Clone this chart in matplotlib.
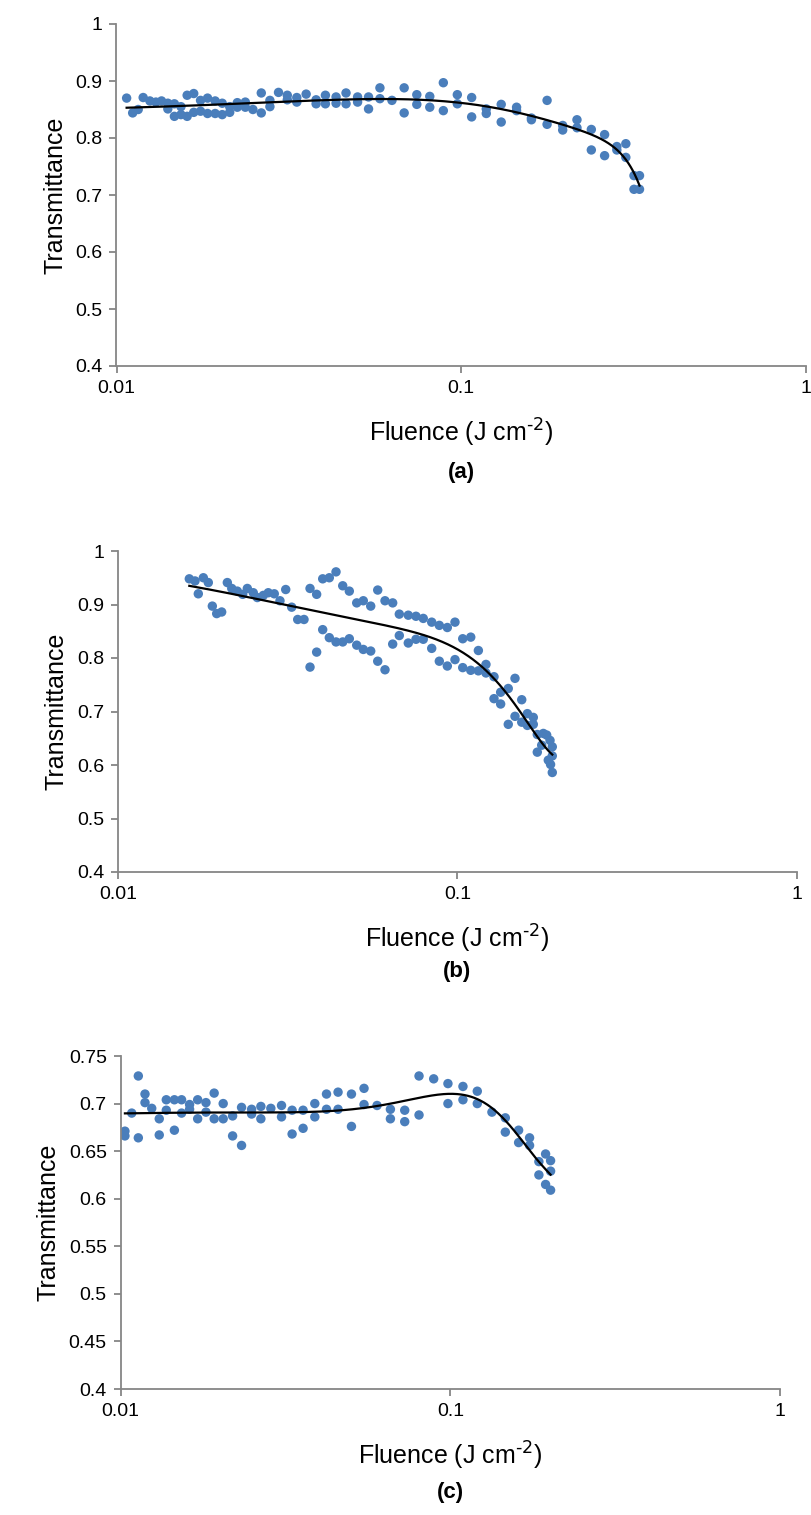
import matplotlib
matplotlib.use("Agg")
import matplotlib.pyplot as plt
import numpy as np
from matplotlib.ticker import FixedLocator, FixedFormatter, NullLocator

plt.rcParams['font.family'] = ['Liberation Sans', 'DejaVu Sans']
plt.rcParams['mathtext.default'] = 'regular'

# panel (a)
fluence_a = [0.01070, 0.01114, 0.01156, 0.01195, 0.01250, 0.01301, 0.01351, 0.01409, 0.01409,
             0.01472, 0.01472, 0.01538, 0.01538, 0.01603, 0.01603, 0.01675, 0.01675, 0.01753,
             0.01753, 0.01837, 0.01837, 0.01933, 0.01933, 0.02026, 0.02026, 0.02130, 0.02130,
             0.02241, 0.02241, 0.02364, 0.02364, 0.02487, 0.02630, 0.02630, 0.02786, 0.02786,
             0.02951, 0.03129, 0.03129, 0.03334, 0.03334, 0.03549, 0.03793, 0.03793, 0.04036,
             0.04036, 0.04334, 0.04334, 0.04632, 0.04632, 0.05004, 0.05004, 0.05384, 0.05384,
             0.05809, 0.05809, 0.06295, 0.06830, 0.06830, 0.07432, 0.07432, 0.08104, 0.08104,
             0.08872, 0.08872, 0.09741, 0.09741, 0.1072, 0.1072, 0.1182, 0.1182, 0.1306, 0.1306,
             0.1447, 0.1447, 0.1598, 0.1598, 0.1774, 0.1774, 0.1969, 0.1969, 0.2166, 0.2166,
             0.2384, 0.2384, 0.2605, 0.2605, 0.2827, 0.2827, 0.3002, 0.3002, 0.3170, 0.3170,
             0.3289, 0.3289]
trans_a = [0.870, 0.844, 0.850, 0.871, 0.865, 0.863, 0.865, 0.851, 0.861,
           0.838, 0.860, 0.841, 0.855, 0.875, 0.838, 0.878, 0.845, 0.847,
           0.866, 0.843, 0.870, 0.865, 0.843, 0.861, 0.841, 0.845, 0.855,
           0.862, 0.854, 0.863, 0.854, 0.850, 0.879, 0.844, 0.866, 0.855,
           0.880, 0.875, 0.867, 0.871, 0.863, 0.877, 0.860, 0.867, 0.875,
           0.860, 0.872, 0.861, 0.879, 0.860, 0.872, 0.863, 0.872, 0.851,
           0.888, 0.869, 0.866, 0.888, 0.844, 0.876, 0.859, 0.873, 0.854,
           0.897, 0.848, 0.876, 0.860, 0.871, 0.837, 0.851, 0.843, 0.859, 0.828,
           0.854, 0.848, 0.835, 0.832, 0.866, 0.824, 0.822, 0.814, 0.832, 0.818,
           0.815, 0.779, 0.806, 0.769, 0.785, 0.779, 0.790, 0.766, 0.734, 0.710,
           0.734, 0.710]

# panel (b)
fluence_b = [0.01622, 0.01686, 0.01724, 0.01784, 0.01845, 0.01896, 0.01953, 0.02020, 0.02099,
             0.02163, 0.02246, 0.02330, 0.02404, 0.02503, 0.02572, 0.02679, 0.02771, 0.02886,
             0.03000, 0.03119, 0.03248, 0.03383, 0.03531, 0.03678, 0.03678, 0.03847, 0.03847,
             0.04008, 0.04008, 0.04192, 0.04192, 0.04387, 0.04387, 0.04591, 0.04591, 0.04801,
             0.04801, 0.05048, 0.05048, 0.05279, 0.05279, 0.05551, 0.05551, 0.05821, 0.05821,
             0.06116, 0.06116, 0.06443, 0.06443, 0.06739, 0.06739, 0.07162, 0.07162, 0.07546,
             0.07546, 0.07928, 0.07928, 0.08395, 0.08395, 0.08840, 0.08840, 0.09333, 0.09333,
             0.09831, 0.09831, 0.1036, 0.1036, 0.1094, 0.1094, 0.1152, 0.1152, 0.1213, 0.1213,
             0.1281, 0.1281, 0.1340, 0.1340, 0.1411, 0.1411, 0.1477, 0.1477, 0.1546, 0.1546,
             0.1606, 0.1606, 0.1672, 0.1672, 0.1718, 0.1718, 0.1770, 0.1790, 0.1831, 0.1851,
             0.1873, 0.1880, 0.1902, 0.1902, 0.1902]
trans_b = [0.948, 0.944, 0.920, 0.950, 0.941, 0.897, 0.883, 0.886, 0.941,
           0.930, 0.925, 0.919, 0.930, 0.922, 0.913, 0.917, 0.922, 0.920,
           0.907, 0.928, 0.895, 0.872, 0.872, 0.930, 0.783, 0.919, 0.811,
           0.948, 0.853, 0.950, 0.838, 0.961, 0.830, 0.935, 0.830, 0.925,
           0.836, 0.903, 0.824, 0.907, 0.816, 0.897, 0.813, 0.927, 0.794,
           0.907, 0.778, 0.903, 0.826, 0.882, 0.842, 0.880, 0.828, 0.878,
           0.835, 0.874, 0.835, 0.867, 0.818, 0.861, 0.794, 0.857, 0.785,
           0.867, 0.797, 0.836, 0.782, 0.839, 0.777, 0.814, 0.776, 0.788, 0.772,
           0.765, 0.724, 0.736, 0.714, 0.743, 0.676, 0.762, 0.691, 0.722, 0.680,
           0.696, 0.674, 0.689, 0.676, 0.657, 0.624, 0.637, 0.659, 0.656, 0.609,
           0.646, 0.601, 0.634, 0.617, 0.586]

# panel (c)
fluence_c = [0.01030, 0.01030, 0.01080, 0.01131, 0.01131, 0.01185, 0.01185, 0.01242, 0.01309,
             0.01309, 0.01375, 0.01375, 0.01455, 0.01455, 0.01530, 0.01530, 0.01618, 0.01618,
             0.01712, 0.01712, 0.01814, 0.01814, 0.01921, 0.01921, 0.02046, 0.02046, 0.02185,
             0.02185, 0.02326, 0.02326, 0.02495, 0.02495, 0.02662, 0.02662, 0.02854, 0.03075,
             0.03075, 0.03311, 0.03311, 0.03575, 0.03575, 0.03880, 0.03880, 0.04210, 0.04210,
             0.04564, 0.04564, 0.05012, 0.05012, 0.05472, 0.05472, 0.05993, 0.06579, 0.06579,
             0.07271, 0.07271, 0.08035, 0.08035, 0.08901, 0.09833, 0.09833, 0.1092, 0.1092,
             0.1207, 0.1207, 0.1337, 0.1468, 0.1468, 0.1611, 0.1611, 0.1739, 0.1739, 0.1856,
             0.1856, 0.1945, 0.1945, 0.2014, 0.2014, 0.2014]
trans_c = [0.671, 0.666, 0.690, 0.729, 0.664, 0.710, 0.701, 0.695, 0.684,
           0.667, 0.704, 0.693, 0.704, 0.672, 0.704, 0.690, 0.699, 0.694,
           0.704, 0.684, 0.701, 0.691, 0.711, 0.684, 0.700, 0.684, 0.687,
           0.666, 0.696, 0.656, 0.694, 0.689, 0.697, 0.684, 0.695, 0.698,
           0.686, 0.693, 0.668, 0.693, 0.674, 0.700, 0.686, 0.710, 0.694,
           0.712, 0.694, 0.710, 0.676, 0.716, 0.699, 0.698, 0.694, 0.684,
           0.693, 0.681, 0.729, 0.688, 0.726, 0.721, 0.700, 0.718, 0.704,
           0.713, 0.700, 0.691, 0.685, 0.670, 0.672, 0.659, 0.664, 0.656, 0.639,
           0.625, 0.647, 0.615, 0.640, 0.629, 0.609]

yticks_ab = [0.4, 0.5, 0.6, 0.7, 0.8, 0.9, 1.0]
ylabels_ab = ['0.4', '0.5', '0.6', '0.7', '0.8', '0.9', '1']
yticks_c = [0.4, 0.45, 0.5, 0.55, 0.6, 0.65, 0.7, 0.75]
ylabels_c = ['0.4', '0.45', '0.5', '0.55', '0.6', '0.65', '0.7', '0.75']
xticks = [0.01, 0.1, 1]
xlabels = ['0.01', '0.1', '1']

W, H = 812, 1515
fig = plt.figure(figsize=(W / 100, H / 100), dpi=100)

def box(l, r, t, b):
    return [l / W, 1 - b / H, (r - l) / W, (b - t) / H]

panels = [
    (box(116.5, 806, 24, 366), fluence_a, trans_a, yticks_ab, ylabels_ab, 6, '(a)'),
    (box(118, 797, 551, 872), fluence_b, trans_b, yticks_ab, ylabels_ab, 4, '(b)'),
    (box(120.7, 780, 1056, 1389), fluence_c, trans_c, yticks_c, ylabels_c, 6, '(c)'),
]

grey = '#868686'
for rect, fx, ty, yt, yl, deg, tag in panels:
    ax = fig.add_axes(rect)
    ax.set_xscale('log')
    ax.scatter(fx, ty, s=46, color='#4A7EBB', edgecolors='none', zorder=2)
    # polynomial trendline, Excel style
    coef = np.polyfit(fx, ty, deg)
    xs = np.linspace(min(fx), max(fx), 300)
    ax.plot(xs, np.polyval(coef, xs), color='black', lw=1.6, zorder=3)
    ax.set_xlim(0.01, 1)
    ax.set_ylim(yt[0], yt[-1])
    ax.xaxis.set_major_locator(FixedLocator(xticks))
    ax.xaxis.set_major_formatter(FixedFormatter(xlabels))
    ax.xaxis.set_minor_locator(NullLocator())
    ax.set_yticks(yt)
    ax.set_yticklabels(yl)
    for s in ['top', 'right']:
        ax.spines[s].set_visible(False)
    for s in ['left', 'bottom']:
        ax.spines[s].set_color(grey)
        ax.spines[s].set_linewidth(1.3)
    ax.tick_params(direction='out', length=5, width=1.3, color=grey,
                   labelsize=14, pad=5)
    ax.set_ylabel('Transmittance', fontsize=18, labelpad=6)
    ax.set_xlabel(r'Fluence (J cm$^{\text{-2}}$)', fontsize=18, labelpad=14)
    ax.text(0.5, -0.31, tag, transform=ax.transAxes,
            ha='center', va='center', fontsize=16, fontweight='bold')

fig.savefig('out.png', dpi=100)
